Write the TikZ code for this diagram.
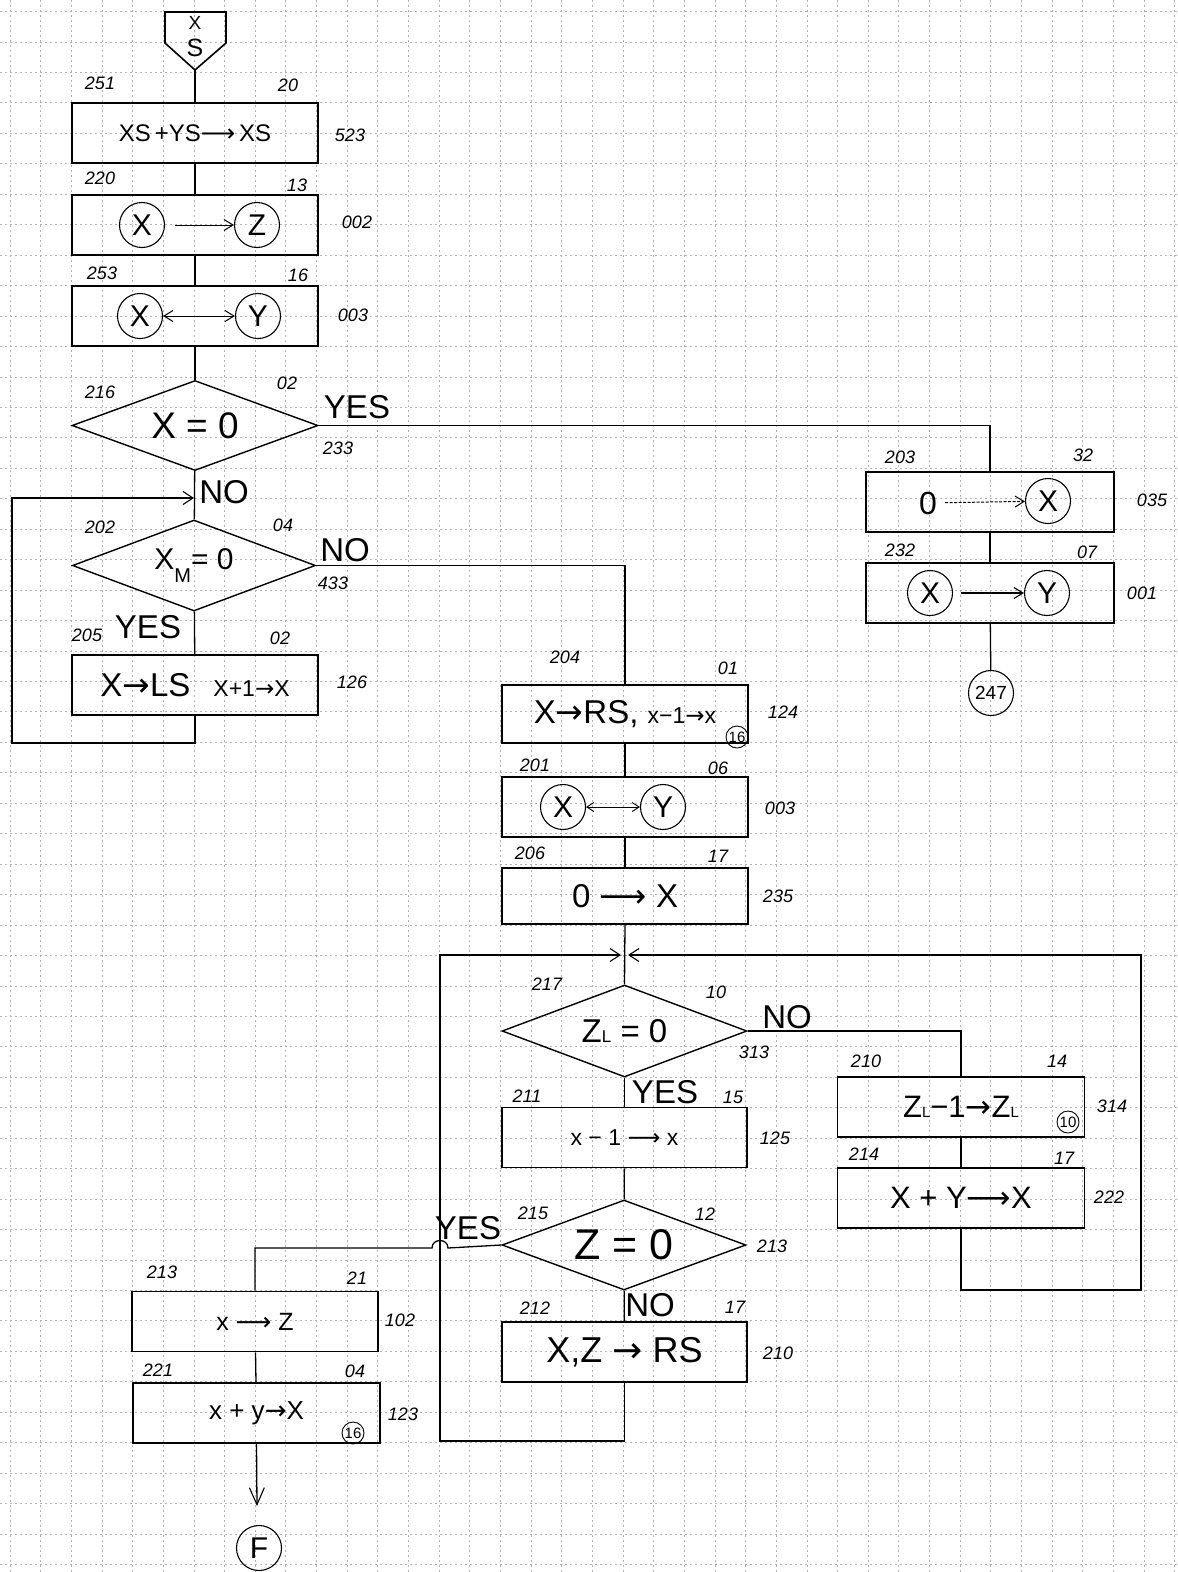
\documentclass[tikz,border=0pt]{standalone}
\usepackage{fontspec}
\setmainfont{Liberation Sans}
\newfontfamily\arr{DejaVu Sans}
\usetikzlibrary{shapes.geometric,arrows.meta}
\newcommand{\fs}[1]{\fontsize{#1}{#1}\selectfont}
\newcommand{\ra}{{\arr →}}
\newcommand{\lra}{{\arr ⟶}}
\begin{document}
\begin{tikzpicture}[x=1pt,y=-1pt,
  pbox/.style={draw,line width=1.7pt,minimum width=246pt,minimum height=60pt,inner sep=0pt},
  dia/.style={draw,diamond,aspect=3,line width=1.4pt,minimum width=246pt,minimum height=90pt,inner sep=0pt},
  circ/.style={draw,circle,line width=1.1pt,minimum size=45pt,inner sep=0pt,font=\fs{30}},
  smallcirc/.style={draw,circle,line width=0.9pt,minimum size=22pt,inner sep=0pt,font=\fs{15}},
  lab/.style={font=\fs{18}\itshape,inner sep=0pt},
  biglab/.style={font=\fs{33},inner sep=0pt},
  conn/.style={line width=1.3pt},
  barb/.style={-{Straight Barb[length=10pt,width=13pt,line width=1.1pt]}},
  gridline/.style={gray!60,line width=0.8pt,dash pattern=on 2pt off 3pt}
]
\fill[white] (0,0) rectangle (1178,1572);
\useasboundingbox (0,0) rectangle (1178,1572);
\foreach \i in {0,...,38} \draw[gridline] ({10+30.65*\i},0) -- ({10+30.65*\i},1572);
\foreach \j in {0,...,51} \draw[gridline] (0,{11.5+30.45*\j}) -- (1178,{11.5+30.45*\j});

% start symbol
\draw[line width=1.6pt] (165,12) -- (226,12) -- (226,43) -- (195,70) -- (165,43) -- cycle;
\node[font=\fs{19},inner sep=0pt] (startX) at (195,23) {X};
\node[font=\fs{25},inner sep=0pt] (startS) at (195,48) {S};
\coordinate (starttip) at (195,70);

% left column
\node[pbox] (b1) at (195,133) {\fs{24}XS\,+YS\lra\,XS};
\node[pbox] (b2) at (195,225) {};
\node[circ] (x1) at (142,225) {X};
\node[circ] (z1) at (257,225) {Z};
\node[pbox] (b3) at (195,316) {};
\node[circ] (x2) at (140,316) {X};
\node[circ] (y2) at (258,316) {Y};
\node[dia] (d1) at (195,425.5) {\fs{37}X = 0};
\node[dia,minimum width=243pt,minimum height=91pt] (d2) at (194,565.5) {\fs{30}X\raisebox{-0.45em}{\fs{20}M}= 0};
\node[pbox] (b126) at (195,685) {\fs{33}X\ra LS\hspace{0.7em}\fs{23}X+1\ra X};

% right column
\node[pbox,minimum width=248pt] (b203) at (990,502) {};
\node[font=\fs{32},inner sep=0pt] (zero1) at (928,503) {0};
\node[circ] (x3) at (1048,501) {X};
\node[pbox,minimum width=248pt] (b232) at (990,593) {};
\node[circ] (x4) at (930,593) {X};
\node[circ] (y4) at (1047,593) {Y};
\node[circ,font=\fs{19}] (c247) at (991,693) {247};

% middle column
\node[pbox,minimum height=58pt] (b204) at (625,714) {\fs{33}X\ra RS, \fs{23}x−1\ra x\hspace{8pt}};
\node[smallcirc] (s16a) at (737,737) {16};
\node[pbox] (b201) at (625,807) {};
\node[circ] (x5) at (563,807) {X};
\node[circ] (y5) at (663,807) {Y};
\node[pbox,minimum height=56pt] (b206) at (625,896) {\fs{33}0 \lra\ X};
\coordinate (jn2) at (625,955);
\node[dia,minimum width=245pt,minimum height=92pt] (dZL) at (624.5,1031) {\fs{33}Z{\fs{17}L} = 0};
\node[pbox,minimum width=245pt] (b211) at (624.5,1137.5) {\fs{23}x − 1 \lra\ x};
\node[dia,minimum width=244pt,minimum height=90pt] (dZ) at (624,1245) {\fs{43}Z = 0};
\node[pbox,minimum width=245pt] (b212) at (624.5,1352) {\fs{36}X,Z \ra\ RS};

% far right loop boxes
\node[pbox,minimum width=247pt] (b210) at (961,1107) {\fs{31}Z{\fs{15}L}−1\ra Z{\fs{15}L}\hspace{14pt}};
\node[smallcirc] (s10) at (1068,1122) {10};
\node[pbox,minimum width=247pt] (b214) at (961,1198) {\fs{31}X + Y\lra X};

% bottom left
\node[pbox] (b213) at (255,1321.5) {\fs{25}x \lra\ Z\hspace{40pt}};
\node[pbox,minimum width=247pt] (b221) at (256.5,1413) {\fs{26}x + y\ra X\hspace{10pt}};
\node[smallcirc] (s16b) at (353,1433) {16};
\node[circ] (cF) at (259,1548) {F};
\coordinate (farr) at (257,1506);

% connectors
\draw[conn] (starttip) -- (b1.north);
\draw[conn] (b1) -- (b2);
\draw[conn] (b2) -- (b3);
\draw[conn] (b3) -- (d1);
\draw[conn] (d1) -- (d2);
\coordinate (jn1) at (195,498);
\draw[conn,barb,shorten >=1pt] (b126.south) -- (195,743) -- (12,743) -- (12,498) -- (jn1);
\draw[conn] (d2) -- (b126);
\draw[conn] (d1.east) -| (b203.north);
\draw[conn] (b203) -- (b232);
\draw[conn] (b232) -- (c247);
\draw[conn] (d2.east) -| (b204.north);
\draw[conn] (b204) -- (b201);
\draw[conn] (b201) -- (b206);
\draw[conn] (b206.south) -- (dZL.north);
\draw[conn,barb,shorten >=4pt] (b212.south) -- (624.5,1441) -- (440,1441) -- (440,955) -- (jn2);
\draw[conn,barb,shorten >=3pt] (b214.south) -- (961,1290) -- (1141,1290) -- (1141,955) -- (jn2);
\draw[conn] (dZL.east) -| (b210.north);
\draw[conn] (b210) -- (b214);
\draw[conn] (dZL) -- (b211);
\draw[conn] (b211) -- (dZ);
\draw[conn] (dZ) -- (b212);
\draw[conn] (dZ.west) -- (448,1248) .. controls (448,1238) and (432,1238) .. (432,1248) -| (b213.north);
\draw[conn] (b213) -- (b221);
\draw[conn,-{Straight Barb[length=17pt,width=15pt,line width=1.1pt]}] (b221.south) -- (farr);

% arrows inside boxes
\draw[line width=1pt,-{Straight Barb[length=9pt,width=11pt]},shorten <=10pt] (x1) -- (z1);
\draw[line width=1pt,{Straight Barb[length=9pt,width=11pt]}-{Straight Barb[length=9pt,width=11pt]}] (x2) -- (y2);
\draw[line width=1pt,-{Straight Barb[length=9pt,width=11pt]},dash pattern=on 3pt off 1.5pt,shorten <=8pt] (zero1) -- (x3);
\draw[line width=1.1pt,-{Straight Barb[length=9pt,width=11pt]},shorten <=8pt] (x4) -- (y4);
\draw[line width=0.9pt,{Straight Barb[length=7pt,width=9pt]}-{Straight Barb[length=7pt,width=9pt]}] (x5) -- (y5);

% labels
\node[lab] (l251) at (100,83) {251};
\node[lab] (l20) at (288,85) {20};
\node[lab] (l523) at (350,135) {523};
\node[lab] (l220) at (100,178) {220};
\node[lab] (l13) at (297,185) {13};
\node[lab] (l002) at (357,222) {002};
\node[lab] (l253) at (102,273) {253};
\node[lab] (l16) at (298,275) {16};
\node[lab] (l003a) at (353,315) {003};
\node[lab] (l216) at (100,392) {216};
\node[lab] (l02a) at (287,383) {02};
\node[biglab] (yes1) at (357,407) {YES};
\node[lab] (l233) at (338,448) {233};
\node[biglab] (no1) at (224,492) {NO};
\node[lab] (l202) at (100,527) {202};
\node[lab] (l04a) at (283,525) {04};
\node[biglab] (no2) at (345,550) {NO};
\node[lab] (l433) at (333,583) {433};
\node[biglab] (yes2) at (148,627) {YES};
\node[lab] (l205) at (87,635) {205};
\node[lab] (l02b) at (280,638) {02};
\node[lab] (l126) at (352,682) {126};
\node[lab] (l203) at (900,457) {203};
\node[lab] (l32) at (1083,455) {32};
\node[lab] (l035) at (1152,500) {035};
\node[lab] (l232) at (900,550) {232};
\node[lab] (l07) at (1087,552) {07};
\node[lab] (l001) at (1142,593) {001};
\node[lab] (l204) at (565,657) {204};
\node[lab] (l01) at (728,668) {01};
\node[lab] (l124) at (783,712) {124};
\node[lab] (l201) at (535,765) {201};
\node[lab] (l06) at (718,768) {06};
\node[lab] (l003b) at (780,808) {003};
\node[lab] (l206) at (530,853) {206};
\node[lab] (l17a) at (718,856) {17};
\node[lab] (l235) at (778,896) {235};
\node[lab] (l217) at (547,984) {217};
\node[lab] (l10) at (716,992) {10};
\node[biglab] (no3) at (787,1017) {NO};
\node[lab] (l313) at (754,1052) {313};
\node[biglab] (yes3) at (665,1092) {YES};
\node[lab] (l211) at (527,1096) {211};
\node[lab] (l15) at (733,1097) {15};
\node[lab] (l125) at (775,1138) {125};
\node[lab] (l215) at (533,1213) {215};
\node[lab] (l12) at (705,1214) {12};
\node[lab] (l213a) at (772,1246) {213};
\node[biglab] (yes4) at (468,1228) {YES};
\node[biglab] (no4) at (650,1305) {NO};
\node[lab] (l212) at (535,1308) {212};
\node[lab] (l17b) at (735,1307) {17};
\node[lab] (l210) at (778,1353) {210};
\node[lab] (l210b) at (866,1061) {210};
\node[lab] (l14) at (1057,1061) {14};
\node[lab] (l314) at (1112,1106) {314};
\node[lab] (l214) at (864,1154) {214};
\node[lab] (l17c) at (1064,1158) {17};
\node[lab] (l222) at (1109,1197) {222};
\node[lab] (l213b) at (162,1272) {213};
\node[lab] (l21) at (357,1278) {21};
\node[lab] (l102) at (400,1320) {102};
\node[lab] (l221) at (158,1370) {221};
\node[lab] (l04b) at (355,1371) {04};
\node[lab] (l123) at (403,1414) {123};
\end{tikzpicture}
\end{document}
